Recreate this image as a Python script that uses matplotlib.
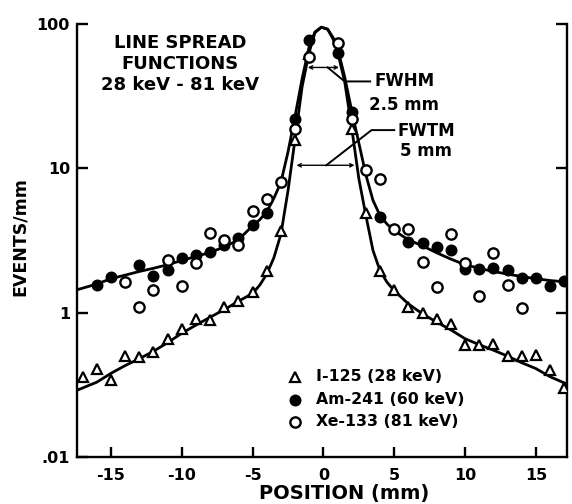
import matplotlib
matplotlib.use("Agg")
import matplotlib.pyplot as plt
from matplotlib.ticker import FixedLocator, FixedFormatter, NullLocator

plt.rcParams['font.family'] = ['DejaVu Sans']

# ---------------- data ----------------
i125_x = [-17, -16, -15, -14, -13, -12, -11, -10, -9, -8, -7, -6, -5, -4, -3, -2, -1,
          2, 3, 4, 5, 6, 7, 8, 9, 10, 11, 12, 13, 14, 15, 16, 17]
i125_y = [0.36, 0.41, 0.34, 0.50, 0.49, 0.53, 0.66, 0.77, 0.91, 0.89, 1.10, 1.21, 1.40, 1.93, 3.7, 15.6, 62,
          18.7, 4.9, 1.95, 1.44, 1.10, 1.00, 0.91, 0.83, 0.60, 0.60, 0.61, 0.50, 0.50, 0.51, 0.40, 0.30]

am241_x = [-16, -15, -13, -12, -11, -10, -9, -8, -7, -6, -5, -4, -2, -1,
           1, 2, 4, 6, 7, 8, 9, 10, 11, 12, 13, 14, 15, 16, 17]
am241_y = [1.55, 1.76, 2.13, 1.80, 1.99, 2.38, 2.50, 2.62, 2.93, 3.30, 4.05, 4.90, 22, 77,
           63, 24.5, 4.6, 3.10, 3.05, 2.86, 2.72, 2.00, 2.02, 2.05, 1.96, 1.75, 1.75, 1.54, 1.67]

xe133_x = [-14, -13, -12, -11, -10, -9, -8, -7, -6, -5, -4, -3, -2, -1,
           1, 2, 3, 4, 5, 6, 7, 8, 9, 10, 11, 12, 13, 14]
xe133_y = [1.63, 1.10, 1.44, 2.33, 1.53, 2.22, 3.55, 3.20, 2.94, 5.05, 6.10, 8.10, 18.6, 59,
           74, 22, 9.8, 8.5, 3.8, 3.8, 2.26, 1.50, 3.50, 2.22, 1.31, 2.57, 1.56, 1.07]

# fitted curves
fit_x = [-17.4, -16, -15, -14, -13, -12, -11, -10, -9, -8, -7, -6, -5, -4.5, -4, -3.5, -3, -2.5, -2,
         -1.5, -1, -0.6, -0.15, 0.3, 0.7, 1, 1.5, 2, 2.5, 3, 3.5, 4, 4.5, 5, 6, 7, 8, 9, 10, 11,
         12, 13, 14, 15, 16, 17.2]
fit_hi_y = [1.44, 1.58, 1.72, 1.82, 1.93, 2.03, 2.15, 2.30, 2.45, 2.62, 2.85, 3.2, 4.0, 4.4, 5.0, 6.2,
            8.0, 13, 23, 42, 70, 88, 95, 92, 80, 68, 43, 25, 15, 9.0, 6.0, 4.7, 4.1, 3.7, 3.2, 2.9,
            2.6, 2.35, 2.15, 2.03, 1.93, 1.85, 1.78, 1.72, 1.67, 1.63]
fit_lo_y = [0.29, 0.33, 0.38, 0.43, 0.48, 0.54, 0.62, 0.72, 0.82, 0.93, 1.05, 1.2, 1.36, 1.55, 1.85,
            2.4, 3.5, 7.0, 16, 37, 64, 87, 95, 92, 78, 64, 40, 19, 8.5, 4.7, 2.7, 1.95, 1.62, 1.42,
            1.15, 0.98, 0.86, 0.76, 0.66, 0.60, 0.55, 0.50, 0.45, 0.41, 0.36, 0.32]

y_ticks = [100, 10, 1, 0.1]
y_tick_labels = ["100", "10", "1", ".01"]
x_ticks = [-15, -10, -5, 0, 5, 10, 15]
x_tick_labels = ["-15", "-10", "-5", "0", "5", "10", "15"]

legend_labels = ["I-125 (28 keV)", "Am-241 (60 keV)", "Xe-133 (81 keV)"]

fwhm_span = (-1.1, 1.1, 50)
fwtm_span = (-1.9, 2.2, 10.5)

# ---------------- figure ----------------
W = 'bold'
fig = plt.figure(figsize=(5.72, 5.04), dpi=100)
ax = fig.add_axes([77/572, 47/504, 490/572, 433/504])
ax.set_yscale('log')
ax.set_xlim(-17.4, 17.2)
ax.set_ylim(0.1, 100)

lw = 2.0
ax.plot(fit_x, fit_hi_y, color='black', lw=lw, zorder=2)
ax.plot(fit_x, fit_lo_y, color='black', lw=lw, zorder=2)

ms = 7.4
ax.plot(i125_x, i125_y, linestyle='none', marker='^', ms=ms + 0.4, mfc='white', mec='black', mew=1.6, zorder=3)
ax.plot(am241_x, am241_y, linestyle='none', marker='o', ms=ms, mfc='black', mec='black', mew=1.2, zorder=3)
ax.plot(xe133_x, xe133_y, linestyle='none', marker='o', ms=ms, mfc='white', mec='black', mew=1.7, zorder=4)

# spines / ticks
for s in ['left', 'bottom', 'right']:
    ax.spines[s].set_linewidth(1.7)
ax.spines['top'].set_visible(False)
ax.yaxis.set_major_locator(FixedLocator(y_ticks))
ax.yaxis.set_major_formatter(FixedFormatter(y_tick_labels))
ax.yaxis.set_minor_locator(NullLocator())
ax.xaxis.set_major_locator(FixedLocator(x_ticks))
ax.xaxis.set_major_formatter(FixedFormatter(x_tick_labels))
ax.xaxis.set_minor_locator(NullLocator())
ax.tick_params(axis='y', direction='in', length=8, width=1.7, left=True, right=True, pad=5,
               labelsize=11.5)
ax.tick_params(axis='x', direction='in', length=7, width=1.7, pad=8, labelsize=11.5)
for lab in ax.get_xticklabels() + ax.get_yticklabels():
    lab.set_fontweight(W)
ax.yaxis.get_major_ticks()[3].tick2line.set_visible(False)

ax.set_xlabel("POSITION (mm)", fontsize=14, fontweight=W)
ax.xaxis.label.set_va('center')
ax.xaxis.set_label_coords((344 - 77) / 490, (457 - 494) / 433)
ax.set_ylabel("EVENTS/mm", fontsize=12.5, fontweight=W)
ax.yaxis.label.set_va('center')
ax.yaxis.set_label_coords((20 - 77) / 490, (457 - 237) / 433)

# title block
ax.text(-10.1, 52.8, "LINE SPREAD\nFUNCTIONS\n28 keV - 81 keV", ha='center', va='center',
        fontsize=13, fontweight=W, linespacing=1.2)

# FWHM / FWTM
for span in (fwhm_span, fwtm_span):
    ax.annotate("", xy=(span[0], span[2]), xytext=(span[1], span[2]),
                arrowprops=dict(arrowstyle='<->', lw=1.0, color='black', mutation_scale=6,
                                shrinkA=0, shrinkB=0))
ax.plot([0.3, 1.5, 3.3], [50, 40, 40], color='black', lw=1.4)
ax.plot([0.2, 3.4, 5.0], [10.5, 18.4, 18.4], color='black', lw=1.4)
ax.text(5.7, 40, "FWHM", ha='center', va='center', fontsize=12, fontweight=W)
ax.text(5.7, 27.5, "2.5 mm", ha='center', va='center', fontsize=12, fontweight=W)
ax.text(7.25, 18.0, "FWTM", ha='center', va='center', fontsize=12, fontweight=W)
ax.text(7.25, 13.2, "5 mm", ha='center', va='center', fontsize=12, fontweight=W)

# legend (manual)
leg_y = [0.36, 0.249, 0.175]
leg_style = [dict(marker='^', mfc='white', mew=1.6), dict(marker='o', mfc='black', mew=1.2),
             dict(marker='o', mfc='white', mew=1.7)]
for lab, yy, st in zip(legend_labels, leg_y, leg_style):
    ax.plot([-2.0], [yy], linestyle='none', ms=ms, mec='black', **st)
    ax.text(-0.5, yy, lab, ha='left', va='center', fontsize=11.3, fontweight=W)

fig.savefig("out.png", dpi=100)
